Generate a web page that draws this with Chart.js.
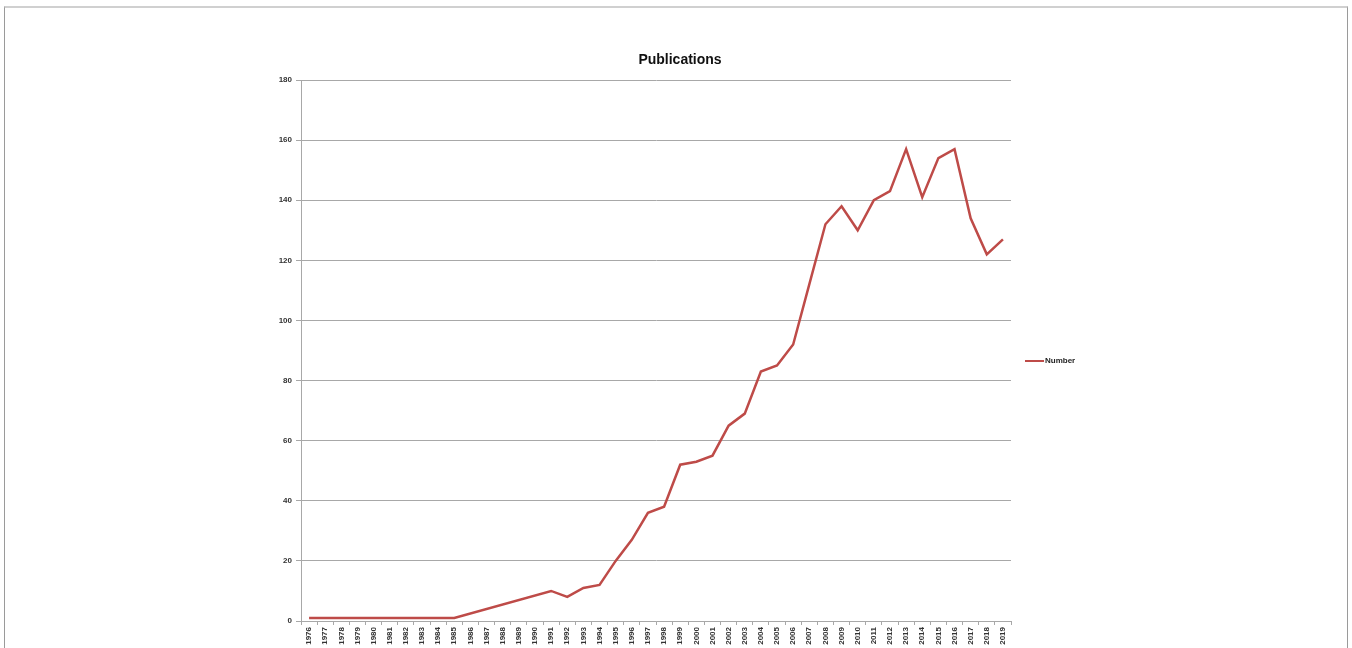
<!DOCTYPE html>
<html>
<head>
<meta charset="utf-8">
<script src="https://cdn.jsdelivr.net/npm/chart.js@4/dist/chart.umd.min.js"></script>
<style>
  html, body { margin: 0; padding: 0; background: #fff; overflow: hidden; }
  #wrap { position: relative; width: 1352px; height: 648px; }
  #frame {
    position: absolute; left: 4px; top: 6px; width: 1344px; height: 700px;
    border-top: 2px solid #d0d0d0; border-left: 1px solid #9a9a9a; border-right: 1px solid #9a9a9a;
    box-sizing: border-box; pointer-events: none;
  }
  canvas { position: absolute; left: 0; top: 0; }
</style>
</head>
<body>
<div id="wrap">
  <canvas id="c" width="1352" height="648"></canvas>
  <div id="frame"></div>
</div>
<script>
// Yearly publication counts (1986–1990 have no entry; the line spans the gap)
const years = ['1976','1977','1978','1979','1980','1981','1982','1983','1984','1985',
  '1986','1987','1988','1989','1990','1991','1992','1993','1994','1995',
  '1996','1997','1998','1999','2000','2001','2002','2003','2004','2005',
  '2006','2007','2008','2009','2010','2011','2012','2013','2014','2015',
  '2016','2017','2018','2019'];
const numbers = [1, 1, 1, 1, 1, 1, 1, 1, 1, 1,
  null, null, null, null, null, 10, 8, 11, 12, 20,
  27, 36, 38, 52, 53, 55, 65, 69, 83, 85,
  92, 112, 132, 138, 130, 140, 143, 157, 141, 154,
  157, 134, 122, 127];
const yTicks = [0, 20, 40, 60, 80, 100, 120, 140, 160, 180];
const chartTitle = 'Publications';
const seriesName = 'Number';

const lineColor = '#be4b48';
const gridColor = '#a8a8a8';
const tickFont = { family: 'Liberation Sans', size: 8, weight: 'bold' };

// Title above the plot and a single-entry legend to its right
const decorations = {
  id: 'decorations',
  afterDraw(chart) {
    const ctx = chart.ctx;
    const area = chart.chartArea;
    ctx.save();
    ctx.fillStyle = '#111';
    ctx.font = 'bold 14px "Liberation Sans"';
    ctx.textAlign = 'center';
    ctx.textBaseline = 'middle';
    ctx.fillText(chartTitle, 680, 60);

    const ds = chart.data.datasets[0];
    const lx = area.right + 14;
    const ly = area.top + 281;
    ctx.strokeStyle = ds.borderColor;
    ctx.lineWidth = 2;
    ctx.beginPath();
    ctx.moveTo(lx, ly);
    ctx.lineTo(lx + 19, ly);
    ctx.stroke();
    ctx.fillStyle = '#222';
    ctx.font = 'bold 8px "Liberation Sans"';
    ctx.textAlign = 'left';
    ctx.fillText(ds.label, lx + 20, ly);
    ctx.restore();
  }
};

new Chart(document.getElementById('c'), {
  type: 'line',
  data: {
    labels: years,
    datasets: [{
      label: seriesName,
      data: numbers,
      borderColor: lineColor,
      backgroundColor: lineColor,
      borderWidth: 2.5,
      pointRadius: 0,
      tension: 0,
      spanGaps: true,
      fill: false
    }]
  },
  options: {
    responsive: false,
    animation: false,
    events: [],
    layout: { padding: { left: 0, right: 341, top: 80, bottom: 0 } },
    plugins: {
      legend: { display: false },
      title: { display: false },
      tooltip: { enabled: false }
    },
    scales: {
      x: {
        type: 'category',
        offset: true,
        afterFit(s) { s.height = 27; },
        grid: {
          offset: true,
          drawOnChartArea: false,
          drawTicks: true,
          tickLength: 4,
          color: gridColor
        },
        border: { display: true, color: gridColor, width: 1 },
        ticks: {
          autoSkip: false,
          minRotation: 90,
          maxRotation: 90,
          padding: 2,
          color: '#333',
          font: tickFont
        }
      },
      y: {
        min: 0,
        max: 180,
        afterFit(s) { s.width = 301; },
        afterBuildTicks(s) { s.ticks = yTicks.map(v => ({ value: v })); },
        grid: {
          color: gridColor,
          lineWidth: 1,
          drawTicks: true,
          tickLength: 5
        },
        border: { display: true, color: gridColor, width: 1 },
        ticks: {
          padding: 4,
          color: '#333',
          font: tickFont
        }
      }
    }
  },
  plugins: [decorations]
});
</script>
</body>
</html>
